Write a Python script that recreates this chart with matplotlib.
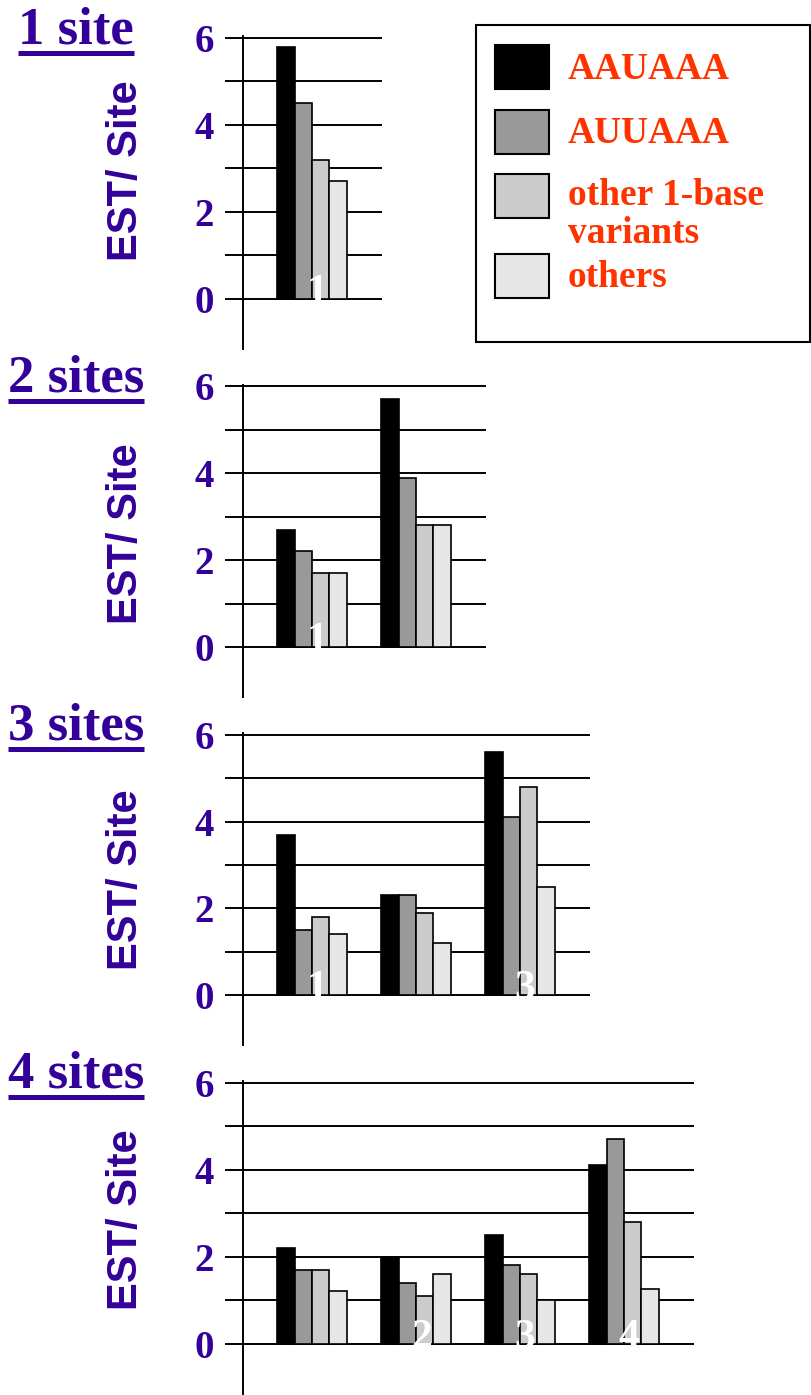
import numpy as np
import matplotlib
matplotlib.use('Agg')
import matplotlib.pyplot as plt
from matplotlib.patches import Rectangle

# values (EST per site), one list per panel (1..4 sites)
panel_titles = ['1 site', '2 sites', '3 sites', '4 sites']
series_names = ['AAUAAA', 'AUUAAA', 'other 1-base\nvariants', 'others']
series_colors = ['#000000', '#999999', '#CCCCCC', '#E6E6E6']

aauaaa = [[5.8], [2.7, 5.7], [3.7, 2.3, 5.6], [2.2, 2.0, 2.5, 4.1]]
auuaaa = [[4.5], [2.2, 3.9], [1.5, 2.3, 4.1], [1.7, 1.4, 1.8, 4.7]]
other_1base = [[3.2], [1.7, 2.8], [1.8, 1.9, 4.8], [1.7, 1.1, 1.6, 2.8]]
others = [[2.7], [1.7, 2.8], [1.4, 1.2, 2.5], [1.2, 1.6, 1.0, 1.25]]
series = [aauaaa, auuaaa, other_1base, others]

# white category labels; some are hidden behind the bars in the original
cat_labels = [['1'], ['1', ''], ['1', '', '3'], ['', '2', '3', '4']]

ytick_vals = [0, 1, 2, 3, 4, 5, 6]
ytick_text = ['0', '', '2', '', '4', '', '6']

purple = '#330099'
red = '#FF3300'
serif = 'Liberation Serif'
sans = 'Liberation Sans'

plt.rcParams['font.family'] = serif
plt.rcParams['font.weight'] = 'bold'

W, H = 812, 1395
fig = plt.figure(figsize=(W / 100, H / 100), dpi=100)


def px_box(left, top, width, height):
    return [left / W, 1 - (top + height) / H, width / W, height / H]


unit_x = 104.0   # px per category
unit_y = 43.45   # px per EST/site
bw = 0.168
ymin, ymax = -1.15, 6.04

for i in range(4):
    n = i + 1
    y6 = 38 + 348.3 * i
    top = y6 - (ymax - 6) * unit_y
    x0, x1 = 1 - 69 / unit_x, n + 70 / unit_x
    ax = fig.add_axes(px_box(243, top, (x1 - x0) * unit_x, (ymax - ymin) * unit_y))
    groups = np.arange(1, n + 1)
    for k in range(4):
        ax.bar(groups + (k - 1.5) * bw, series[k][i], bw, color=series_colors[k],
               edgecolor='black', linewidth=1.2, zorder=3)
    for g, lab in zip(groups, cat_labels[i]):
        ax.text(g + 0.05, -0.09, lab, color='white', fontsize=30, ha='center',
                va='baseline', zorder=6)
    ax.set_xlim(x0, x1)
    ax.set_ylim(ymin, ymax)
    ax.set_xticks([])
    ax.set_yticks(ytick_vals)
    ax.set_yticklabels(ytick_text)
    ax.tick_params(axis='y', direction='out', length=13, width=1.4, pad=8,
                   labelsize=28, labelcolor=purple)
    ax.yaxis.grid(True, color='black', linewidth=1.4)
    ax.set_axisbelow(True)
    for s in ['top', 'right', 'bottom']:
        ax.spines[s].set_visible(False)
    ax.spines['left'].set_linewidth(1.4)

# overlay in pixel coordinates for titles, y labels and the legend
ov = fig.add_axes([0, 0, 1, 1])
ov.set_xlim(0, W)
ov.set_ylim(H, 0)
ov.axis('off')

title_baselines = [44, 392, 740, 1088]
ylabel_centers = [171, 534, 880, 1220]
title_objs = []
for t, yb, yc in zip(panel_titles, title_baselines, ylabel_centers):
    title_objs.append(ov.text(76, yb, t, fontsize=38, color=purple, ha='center',
                              va='baseline'))
    ov.text(126, yc, 'EST/ Site', fontsize=30, family=sans, color=purple,
            rotation=90, ha='center', va='center')

fig.canvas.draw()
for t, yb in zip(title_objs, title_baselines):
    bb = t.get_window_extent()
    ov.plot([bb.x0, bb.x1], [yb + 9, yb + 9], color=purple, linewidth=3.6,
            solid_capstyle='butt')

# legend
ov.add_patch(Rectangle((476, 25), 334, 317, fill=False, edgecolor='black',
                       linewidth=1.5))
patch_tops = [45, 110, 174, 254]
text_y = [79, 143, 205, 287]
for name, c, pt, ty in zip(series_names, series_colors, patch_tops, text_y):
    ov.add_patch(Rectangle((495, pt), 54, 44, facecolor=c, edgecolor='black',
                           linewidth=1.5))
    if '\n' in name:
        first, second = name.split('\n')
        ov.text(568, ty, first, fontsize=27, color=red, va='baseline')
        ov.text(568, ty + 38, second, fontsize=27, color=red, va='baseline')
    else:
        ov.text(568, ty, name, fontsize=27, color=red, va='baseline')

fig.savefig('out.png', dpi=100)
